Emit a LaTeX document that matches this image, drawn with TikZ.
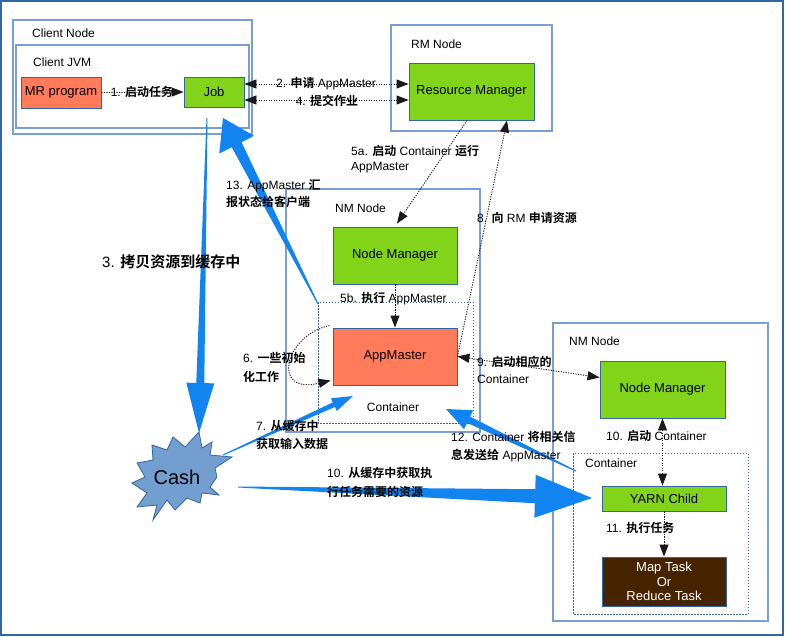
\documentclass[tikz,border=0pt]{standalone}
\usepackage{fontspec}
\setmainfont{Liberation Sans}
\newfontfamily\cjk{Noto Sans CJK SC}[BoldFont={Noto Sans CJK SC Bold}]
\usetikzlibrary{arrows.meta,calc}
\definecolor{framec}{HTML}{3465A4}
\definecolor{boxc}{HTML}{7B9ED2}
\definecolor{greenc}{HTML}{81D41A}
\definecolor{coralc}{HTML}{FF7B5A}
\definecolor{brownc}{HTML}{472400}
\definecolor{bigblue}{HTML}{1284F0}
\definecolor{cashfill}{HTML}{729FCF}
\definecolor{cashline}{HTML}{3465A4}
\newcommand\zh[1]{{\cjk\bfseries #1}}
\newcommand\fatarrow[6]{%
  \coordinate (fa-h) at ($(#2)!#6!(#1)$);
  \fill[bigblue] ($(#1)!#3!90:(#2)$) -- ($(fa-h)!#4!90:(#2)$) -- ($(fa-h)!#5!90:(#2)$)
    -- (#2) -- ($(fa-h)!#5!-90:(#2)$) -- ($(fa-h)!#4!-90:(#2)$) -- ($(#1)!#3!-90:(#2)$) -- cycle;}
\tikzset{
  frame/.style={draw=boxc, line width=1.1pt},
  contbox/.style={draw=framec, line width=0.8pt, dash pattern=on 1.5pt off 1.5pt},
  comp/.style={draw=framec, line width=0.9pt, inner sep=0pt, font=\fontsize{13}{15}\selectfont},
  lbl/.style={inner sep=0pt, font=\fontsize{12}{18}\selectfont, align=left},
  conn/.style={draw=black!90, line width=0.9pt, dash pattern=on 1.2pt off 1.3pt, -{Triangle[length=12pt,width=9pt]}},
  conn2/.style={conn, {Triangle[length=12pt,width=9pt]}-{Triangle[length=12pt,width=9pt]}}
}
\begin{document}
\begin{tikzpicture}[x=1pt,y=-1pt]
\useasboundingbox (0,0) rectangle (785,637);
\fill[white] (0,0) rectangle (785,637);
\draw[framec, line width=1.2pt] (1,1) rectangle (783,635);

% frames
\draw[frame] (13,20) rectangle (252,134);
\draw[frame] (16,45) rectangle (249,128);
\draw[frame] (391,25) rectangle (552,131);
\draw[frame] (286,189) rectangle (480,432);
\draw[frame] (553,323) rectangle (768,621);
\draw[contbox] (318,302) rectangle (473,423);
\draw[contbox] (573,453) rectangle (748,614);

\node[lbl, anchor=west] (tcn) at (32,33) {Client Node};
\node[lbl, anchor=west] (tcj) at (33,62) {Client JVM};
\node[lbl, anchor=west] (trm) at (411,44) {RM Node};
\node[lbl, anchor=west] (tnm1) at (335,208) {NM Node};
\node[lbl, anchor=west] (tnm2) at (569,341) {NM Node};
\node[lbl] (tc1) at (393,407) {Container};
\node[lbl, anchor=west] (tc2) at (585,463) {Container};

% components
\node[comp, fill=coralc, minimum width=80pt, minimum height=31pt] (mrp) at (61,92.5) {MR program};
\node[comp, fill=greenc, minimum width=60pt, minimum height=30pt] (job) at (214,92) {Job};
\node[comp, fill=greenc, minimum width=125pt, minimum height=57pt] (rm) at (471.5,91.5) {Resource Manager};
\node[comp, fill=greenc, minimum width=124pt, minimum height=57pt] (nm1) at (395,255.5) {Node Manager};
\node[comp, fill=coralc, minimum width=124pt, minimum height=57pt] (am) at (395,356.5) {AppMaster};
\node[comp, fill=greenc, minimum width=125pt, minimum height=57pt] (nm2) at (662.5,389.5) {Node Manager};
\node[comp, fill=greenc, minimum width=124pt, minimum height=25pt] (yc) at (664,498.5) {YARN Child};
\node[comp, fill=brownc, text=white, minimum width=124pt, minimum height=49pt, align=center,
      font=\fontsize{13}{14.5}\selectfont] (mt) at (664,581.5) {Map Task\\Or\\Reduce Task};

% cash starburst
\fill[cashfill, draw=cashline, line width=0.8pt, line join=miter]
  (199,432) -- (202,448) -- (212,442) -- (210,455) -- (232,457) -- (215,468) -- (217,477)
  -- (210,487) -- (219,495) -- (202,493) -- (200,503) -- (187,498) -- (175,510) -- (167,500)
  -- (153,520) -- (157,505) -- (137,507) -- (147,493) -- (132,483) -- (145,477) -- (137,463)
  -- (153,460) -- (152,445) -- (167,450) -- (173,437) -- (185,447) -- cycle;
\node[inner sep=0pt, font=\fontsize{20}{22}\selectfont] (cash) at (177,477) {Cash};

% dotted connectors
\draw[conn] (mrp.east) -- (job.west);
\draw[conn2] ([yshift=8pt]job.east) -- ([yshift=8pt]job.east -| rm.west);
\draw[conn2] ([yshift=-8pt]job.east) -- ([yshift=-8pt]job.east -| rm.west);
\draw[conn] ([xshift=-4.5pt]rm.south) -- ([xshift=2pt,yshift=3pt]nm1.north);
\draw[conn] (am.east) -- ([xshift=35.5pt]rm.south);
\draw[conn] (nm1.south) -- (am.north);
\draw[conn] ([xshift=-3pt,yshift=2pt]am.north west) .. controls (285,335) and (270,395) .. ([xshift=-2pt,yshift=5pt]am.south west);
\draw[conn2] (am.east) -- ([yshift=12pt]nm2.west);
\draw[conn2] (nm2.south) -- (nm2.south |- yc.north);
\draw[conn] (yc.south) -- (mt.north);

% big arrows
\coordinate (a3s) at (207,118);
\coordinate (a3e) at (199,433);
\coordinate (a13s) at (318,304);
\coordinate (a13e) at (223,118);
\coordinate (a7s) at (223,455);
\coordinate (a7e) at (353,396);
\coordinate (a10s) at (238,487);
\coordinate (a10e) at (592,498);
\coordinate (a12s) at (576,471);
\coordinate (a12e) at (446,409);
\fatarrow{a3s}{a3e}{0.5pt}{4pt}{14pt}{50pt}
\fatarrow{a13s}{a13e}{0.5pt}{5.5pt}{19.5pt}{30pt}
\fatarrow{a7s}{a7e}{0.5pt}{2.5pt}{7pt}{21pt}
\fatarrow{a10s}{a10e}{0.5pt}{7pt}{21.5pt}{57pt}
\fatarrow{a12s}{a12e}{0.5pt}{3.5pt}{10.5pt}{25pt}

% labels
\node[lbl] (l1) at (142,92) {1. \zh{启动任务}};
\node[lbl] (l2) at (326,84) {2. \zh{申请} AppMaster};
\node[lbl] (l4) at (327,101) {4. \zh{提交作业}};
\node[lbl, anchor=west, font=\fontsize{12}{15}\selectfont] (l5a) at (351,159.5) {5a. \zh{启动} Container \zh{运行}\\AppMaster};
\node[lbl, anchor=west] (l8) at (477,218) {8. \zh{向} RM \zh{申请资源}};
\node[lbl, anchor=west, font=\fontsize{12}{17}\selectfont] (l13) at (226,193.5) {13. AppMaster \zh{汇}\\\zh{报状态给客户端}};
\node[lbl, anchor=west] (l5b) at (340,299) {5b. \zh{执行} AppMaster};
\node[lbl, anchor=west, font=\fontsize{12}{19}\selectfont] (l6) at (243,367.5) {6. \zh{一些初始}\\\zh{化工作}};
\node[lbl, anchor=west, font=\fontsize{12}{17}\selectfont] (l9) at (477,369.5) {9. \zh{启动相应的}\\Container};
\node[lbl, anchor=west] (l7) at (256,435) {7. \zh{从缓存中}\\\zh{获取输入数据}};
\node[lbl, anchor=west, font=\fontsize{12}{19}\selectfont] (l10) at (327,482.5) {10. \zh{从缓存中获取执}\\\zh{行任务需要的资源}};
\node[lbl, anchor=west] (l12) at (451,447) {12. Container \zh{将相关信}\\\zh{息发送给} AppMaster};
\node[lbl, anchor=west] (l10b) at (606,436) {10. \zh{启动} Container};
\node[lbl, anchor=west] (l11) at (606,528) {11. \zh{执行任务}};
\node[lbl, anchor=west, font=\fontsize{15}{18}\selectfont] (l3) at (102,262) {3. \zh{拷贝资源到缓存中}};
\end{tikzpicture}
\end{document}
